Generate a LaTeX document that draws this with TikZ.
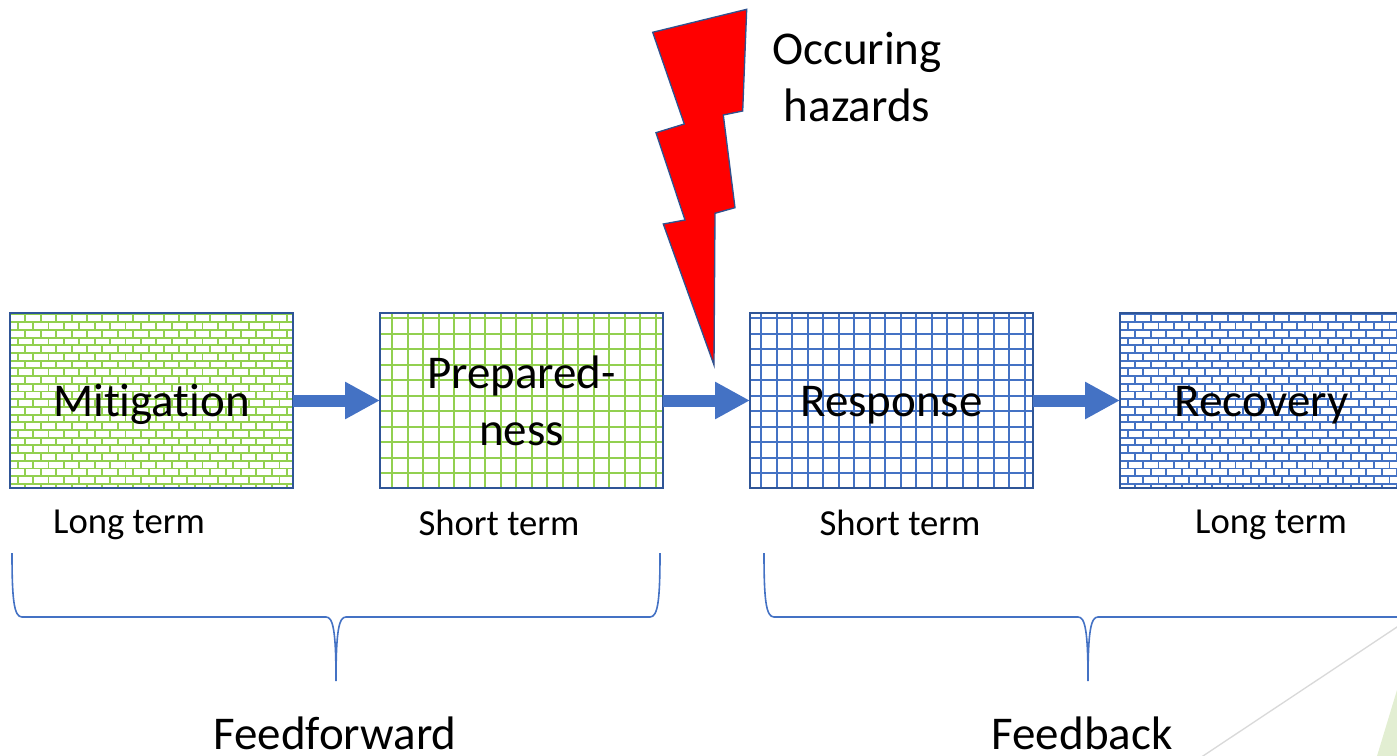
\documentclass[tikz,border=0pt]{standalone}
\usepackage{fontspec}
\setmainfont[Ligatures=NoCommon]{Carlito}
\usetikzlibrary{arrows.meta}
\definecolor{pgreen}{HTML}{92D050}
\definecolor{pblue}{HTML}{4472C4}
\definecolor{boxblue}{HTML}{2F5597}
\definecolor{boltedge}{HTML}{2F528F}
\definecolor{decogray}{HTML}{D9D9D9}
\definecolor{decogreen}{HTML}{E2EED2}

\newcommand\brickfill[5]{%
  \begin{scope}
    \clip (#1,#2) rectangle (#3,#4);
    \foreach \r in {0,...,23}{%
      \pgfmathsetmacro\yy{#2+1.5+\r*7.7}%
      \pgfmathsetmacro\off{mod(\r,2)*7.7}%
      \draw[#5,line width=1.45pt] (#1,\yy) -- (#3,\yy);
      \foreach \c in {-1,...,19}{\draw[#5,line width=1.45pt] ({#1+\off+\c*15.4},\yy) -- ++(0,7.7);}
    }
  \end{scope}}

\newcommand\gridfill[6]{%
  \begin{scope}
    \clip (#1,#2) rectangle (#3,#4);
    \foreach \k in {0,...,19}{%
      \draw[#5,line width=1.5pt] ({#1+#6+\k*15.5},#2) -- ({#1+#6+\k*15.5},#4);
    }
    \foreach \k in {0,...,12}{%
      \draw[#5,line width=1.5pt] (#1,{#2+5+\k*15.5}) -- (#3,{#2+5+\k*15.5});
    }
  \end{scope}}

\tikzset{
  bigtxt/.style={font=\fontsize{35.25}{42.75}\selectfont, inner sep=0pt, outer sep=0pt},
  smalltxt/.style={font=\fontsize{27.5}{33}\selectfont, inner sep=0pt, outer sep=0pt},
  phasebox/.style={draw=boxblue, line width=1.5pt, minimum width=212.25pt, minimum height=131.25pt,
    inner sep=0pt, outer sep=0pt, align=center, font=\fontsize{35.25}{42.75}\selectfont},
  oneline/.style={text height=26.4pt, text depth=1.8pt},
  blockarrow/.style={pblue, line width=9pt, -{Triangle[length=26.25pt,width=26.25pt]}},
  bracepath/.style={pblue, line width=1.2pt},
  bolt/.style={fill=red, draw=boltedge, line width=1pt, line join=miter}
}

\begin{document}
\begin{tikzpicture}[x=0.75pt, y=-0.75pt]
\useasboundingbox (0,0) rectangle (1397,756);

% slide decoration
\draw[decogray, line width=1pt] (1190,764.6) -- (1410,618.4);
\fill[decogreen] (1374.6,764) -- (1402,673.5) -- (1410,673.5) -- (1410,764) -- cycle;

% fills
\brickfill{10}{313}{293}{488}{pgreen}
\gridfill{380}{313}{663}{488}{pgreen}{12}
\gridfill{750}{313}{1033}{488}{pblue}{11}
\brickfill{1120}{313}{1403}{488}{pblue}

% boxes
\node[phasebox, oneline] (mit) at (151.5,400.5) {Mitigation};
\node[phasebox] (prep) at (521.5,400.5) {Prepared-\\ness};
\node[phasebox, oneline] (resp) at (891.5,400.5) {Response};
\node[phasebox, oneline] (rec) at (1261.5,400.5) {Recovery};

% arrows
\draw[blockarrow] (mit) -- (prep);
\draw[blockarrow] (prep) -- (resp);
\draw[blockarrow] (resp) -- (rec);

% lightning bolt
\draw[bolt] (652.7,32.3) -- (746.7,9.3) -- (742.7,111) -- (723.3,115) -- (735,207.7) -- (715,213.3)
  -- (714,365) -- (663.3,224) -- (685,220) -- (656,132.7) -- (684.3,124) -- cycle;
\node[bigtxt, align=center] (haz) at (857,77) {Occuring\\hazards};

% term labels
\node[smalltxt, anchor=base] (lt1) at (129,533.5) {Long term};
\node[smalltxt, anchor=base] (st1) at (499,535.5) {Short term};
\node[smalltxt, anchor=base] (st2) at (900,535.5) {Short term};
\node[smalltxt, anchor=base] (lt2) at (1271,533.5) {Long term};

% braces
\draw[bracepath] (12,553) .. controls (12,600) and (14,617) .. (22,617) -- (326,617)
  .. controls (333,617) and (336,630) .. (336,681)
  .. controls (336,630) and (339,617) .. (346,617) -- (650,617)
  .. controls (658,617) and (660,600) .. (660,553);
\draw[bracepath] (764,553) .. controls (764,600) and (766,617) .. (774,617) -- (1078,617)
  .. controls (1085,617) and (1088,630) .. (1088,681)
  .. controls (1088,630) and (1091,617) .. (1098,617) -- (1402,617)
  .. controls (1410,617) and (1412,600) .. (1412,553);

\node[bigtxt, anchor=base] (ff) at (335,749) {Feedforward};
\node[bigtxt, anchor=base] (fb) at (1082,749) {Feedback};
\end{tikzpicture}
\end{document}
